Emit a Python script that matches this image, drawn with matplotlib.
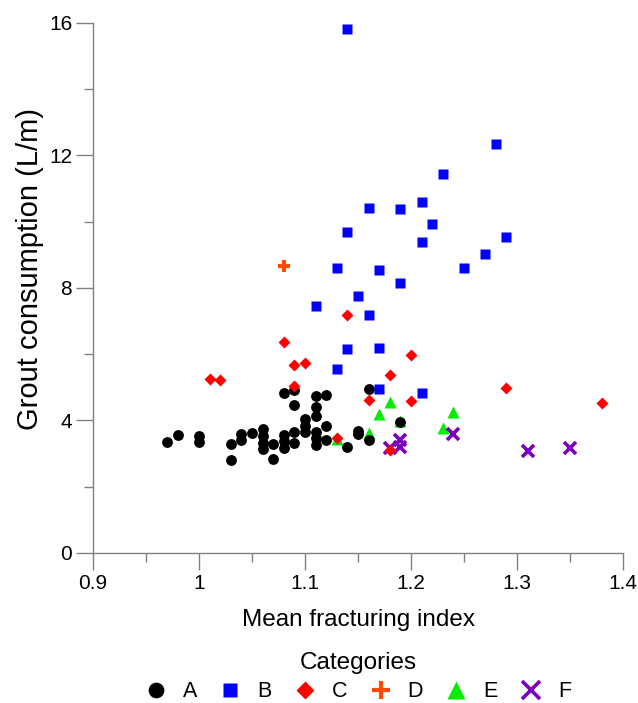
import numpy as np
import matplotlib
matplotlib.use("Agg")
import matplotlib.pyplot as plt
from matplotlib.ticker import MultipleLocator

plt.rcParams['font.family'] = ['Liberation Sans', 'DejaVu Sans']

# category A (black circles)
a_x = [0.97, 0.98, 1.00, 1.00, 1.03, 1.03, 1.04, 1.04, 1.05,
       1.06, 1.06, 1.06, 1.06, 1.07, 1.07,
       1.08, 1.08, 1.08, 1.08, 1.09, 1.09, 1.09, 1.09,
       1.10, 1.10, 1.10, 1.11, 1.11, 1.11, 1.11, 1.11, 1.11,
       1.12, 1.12, 1.12, 1.14, 1.15, 1.15, 1.16, 1.16, 1.19]
a_y = [3.34, 3.55, 3.54, 3.34, 3.30, 2.81, 3.59, 3.40, 3.62,
       3.74, 3.52, 3.32, 3.15, 3.30, 2.84,
       4.83, 3.57, 3.37, 3.18, 4.93, 4.46, 3.65, 3.32,
       4.04, 3.84, 3.64, 4.73, 4.41, 4.14, 3.64, 3.47, 3.27,
       4.76, 3.82, 3.42, 3.19, 3.69, 3.59, 4.96, 3.40, 3.95]

# category B (blue squares)
b_x = [1.14, 1.14, 1.13, 1.11, 1.28, 1.23, 1.21, 1.16, 1.19, 1.22, 1.21, 1.29,
       1.27, 1.25, 1.17, 1.19, 1.15, 1.16, 1.14, 1.17, 1.13, 1.17, 1.21]
b_y = [15.82, 9.70, 8.59, 7.45, 12.35, 11.43, 10.60, 10.40, 10.37, 9.92, 9.40, 9.55,
       9.03, 8.60, 8.53, 8.14, 7.76, 7.17, 6.16, 6.20, 5.55, 4.96, 4.83]

# category C (red diamonds)
c_x = [1.01, 1.02, 1.08, 1.09, 1.10, 1.09, 1.13, 1.14, 1.16, 1.18, 1.20, 1.20,
       1.18, 1.29, 1.38]
c_y = [5.25, 5.22, 6.36, 5.66, 5.74, 5.05, 3.47, 7.18, 4.63, 5.37, 5.99, 4.58,
       3.12, 4.98, 4.53]

# category D (orange plus)
d_x = [1.08]
d_y = [8.66]

# category E (green triangles)
e_x = [1.13, 1.16, 1.17, 1.18, 1.19, 1.23, 1.24]
e_y = [3.45, 3.62, 4.19, 4.55, 3.98, 3.77, 4.27]

# category F (purple crosses)
f_x = [1.18, 1.19, 1.19, 1.24, 1.31, 1.35]
f_y = [3.17, 3.40, 3.20, 3.60, 3.09, 3.18]

fig = plt.figure(figsize=(6.38, 7.03), dpi=100)
ax = fig.add_axes([0.1458, 0.2134, 0.8307, 0.7539])

ax.plot(a_x, a_y, 'o', color='black', ms=7.8, mec='none', label='A', zorder=4)
ax.plot(b_x, b_y, 's', color='#0000ff', ms=7.4, mec='none', label='B', zorder=6)
ax.plot(c_x, c_y, 'D', color='#ff0000', ms=6.6, mec='none', label='C', zorder=5)
ax.plot(d_x, d_y, '+', color='#ff4a00', ms=9, mew=3, label='D', zorder=6)
ax.plot(e_x, e_y, '^', color='#00ee00', ms=9, mec='none', label='E', zorder=3)
ax.plot(f_x, f_y, 'x', color='#7a00c0', ms=8.5, mew=2.6, label='F', zorder=3)

ax.set_xlim(0.9, 1.4)
ax.set_ylim(0, 16)
ax.xaxis.set_minor_locator(MultipleLocator(0.05))
ax.yaxis.set_major_locator(MultipleLocator(4))
ax.yaxis.set_minor_locator(MultipleLocator(2))
ax.set_xticks([0.9, 1.0, 1.1, 1.2, 1.3, 1.4])
ax.set_xticklabels(['0.9', '1', '1.1', '1.2', '1.3', '1.4'])

for side in ['top', 'right']:
    ax.spines[side].set_visible(False)
for side in ['left', 'bottom']:
    ax.spines[side].set_color('#808080')
    ax.spines[side].set_linewidth(1.0)
ax.tick_params(which='major', length=12, width=1.0, color='#808080',
               labelsize=15, direction='out', pad=3)
ax.tick_params(which='minor', length=6.5, width=1.0, color='#808080', direction='out')

ax.set_xlabel('Mean fracturing index', fontsize=17.5, labelpad=12)
ax.set_ylabel('Grout consumption (L/m)', fontsize=21)
ax.yaxis.set_label_coords(-0.092, 0.536)

leg = ax.legend(title='Categories', ncol=6, frameon=False, loc='upper center',
                bbox_to_anchor=(0.5, -0.171), fontsize=15.5, title_fontsize=17.5,
                markerscale=1.45, handlelength=1.0, handletextpad=0.75,
                columnspacing=1.05, borderaxespad=0)
leg._legend_box.sep = 5

fig.savefig('out.png', dpi=100)
